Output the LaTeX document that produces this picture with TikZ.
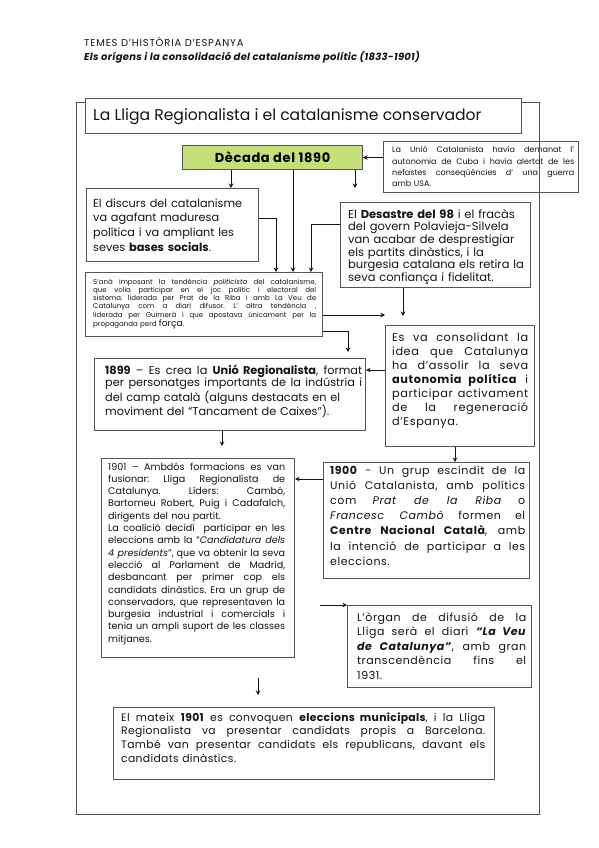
\documentclass[tikz,border=0pt]{standalone}
\usepackage{fontspec}
\setmainfont{Poppins}
\usetikzlibrary{arrows.meta}
\definecolor{decgreen}{RGB}{196,223,124}
\definecolor{bord}{RGB}{85,85,85}
\definecolor{ink}{RGB}{20,20,20}
\newcommand\fsz[2]{\fontsize{#1}{#2}\selectfont}
\newlength\bw
\newcommand\J[1]{{\spaceskip=0pt\xspaceskip=0pt\relax\makebox[\bw][s]{#1}}}
\tikzset{
  box/.style={draw=bord, line width=1.1pt, rectangle, anchor=north west, inner sep=0pt},
  frame/.style={draw=bord, line width=1.4pt, rectangle, anchor=north west, inner sep=0pt},
  txt/.style={anchor=base west, inner sep=0pt, align=left, text=ink},
  tw/.style={text width=#1, execute at begin node={\setlength{\bw}{#1}}},
  arr/.style={draw=ink, line width=0.8pt, -{Stealth[length=4.5pt,width=4.5pt]}},
}
\begin{document}
\frenchspacing
\begin{tikzpicture}[x=1pt,y=-1pt]
\useasboundingbox[fill=white] (0,0) rectangle (599,848);

% header
\node[txt, font={\fsz{10}{11}\addfontfeature{LetterSpace=8}}] (h1) at (84,47) {TEMES D’HISTÒRIA D’ESPANYA};
\node[txt, font={\fsz{10}{11}\bfseries\itshape\addfontfeature{LetterSpace=2.5}}] (h2) at (84,61) {Els orígens i la consolidació del catalanisme polític (1833-1901)};

% outer frame and title
\node[frame, minimum width=463pt, minimum height=712pt] (frame) at (76,102) {};
\node[box, fill=white, minimum width=436pt, minimum height=35pt] (title) at (85,98) {};
\node[txt, font=\fsz{15.6}{18}] (titlet) at (93,121) {La Lliga Regionalista i el catalanisme conservador};

% Decada
\node[box, fill=decgreen, minimum width=180pt, minimum height=24pt, font={\fsz{13}{14}\bfseries\addfontfeature{LetterSpace=5}}] (dec) at (182,145) {Dècada del 1890};

% note
\node[box, minimum width=195pt, minimum height=51pt] (note) at (383,141) {};
\node[txt, tw=182pt, font=\fsz{8}{11}] (notet) at (392,153) {\J{La Unió Catalanista havia demanat l’}\\
\J{autonomia de Cuba i havia alertat de les}\\
\J{nefastes conseqüències d’ una guerra}\\
amb USA.};

% discurs
\node[box, minimum width=172pt, minimum height=73pt] (disc) at (86,188) {};
\node[txt, tw=163pt, font=\fsz{11.3}{14.7}] (disct) at (93,207) {El discurs del catalanisme\\
va agafant maduresa\\
política i va ampliant les\\
seves \textbf{bases socials}.};

% desastre
\node[box, minimum width=190pt, minimum height=85pt] (desa) at (340,202) {};
\node[txt, tw=181pt, font=\fsz{11.5}{12.7}] (desat) at (348,218) {El \textbf{Desastre del 98} i el fracàs\\
del govern Polavieja-Silvela\\
van acabar de desprestigiar\\
els partits dinàstics, i la\\
burgesia catalana els retira la\\
seva confiança i fidelitat.};

% politicista
\node[box, minimum width=237pt, minimum height=64pt] (poli) at (85,272) {};
\node[txt, tw=223pt, font=\fsz{7}{8.3}] (polit) at (93,284) {\J{S’anà imposant la tendència \textit{politicista} del catalanisme,}\\
\J{que volia participar en el joc polític i electoral del}\\
\J{sistema. liderada per Prat de la Riba i amb La Veu de}\\
\J{Catalunya com a diari difusor. L’ altra tendència ,}\\
\J{liderada per Guimerà i que apostava únicament per la}\\
propaganda perd {\fsz{9}{8.3}força}.};

% consolidant
\node[box, minimum width=149pt, minimum height=121pt] (cons) at (385,325) {};
\node[txt, tw=136pt, font={\fsz{11.3}{14}\addfontfeature{LetterSpace=5}}] (const) at (392,341) {\J{Es va consolidant la}\\
\J{idea que Catalunya}\\
\J{ha d’assolir la seva}\\
\J{\textbf{autonomia política} i}\\
\J{participar activament}\\
\J{de la regeneració}\\
d’Espanya.};

% 1899
\node[box, minimum width=271pt, minimum height=72pt] (y1899) at (94,358) {};
\node[txt, tw=257pt, font=\fsz{11.3}{12.6}] (y1899t) at (105,374) {\J{\textbf{1899} – Es crea la \textbf{Unió Regionalista}, format}\\
\J{per personatges importants de la indústria i}\\
del camp català (alguns destacats en el\\
moviment del “Tancament de Caixes”).};

% 1900
\node[box, minimum width=206pt, minimum height=116pt] (y1900) at (323,462) {};
\node[txt, tw=195pt, font={\fsz{11}{15.2}\addfontfeature{LetterSpace=5}}] (y1900t) at (330,474) {\J{\textbf{1900} - Un grup escindit de la}\\
\J{Unió Catalanista, amb polítics}\\
\J{com \textit{Prat de la Riba} o}\\
\J{\textit{Francesc Cambó} formen el}\\
\J{\textbf{Centre Nacional Català}, amb}\\
\J{la intenció de participar a les}\\
eleccions.};

% 1901
\node[box, minimum width=193pt, minimum height=199pt] (y1901) at (101,458) {};
\node[txt, tw=177pt, font=\fsz{9.6}{12.3}] (y1901t) at (108,470) {\J{1901 – Ambdós formacions es van}\\
\J{fusionar: Lliga Regionalista de}\\
\J{Catalunya. Líders: Cambó,}\\
\J{Bartomeu Robert, Puig i Cadafalch,}\\
dirigents del nou partit.\\
\J{La coalició decidí \ participar en les}\\
\J{eleccions amb la “\textit{Candidatura dels}}\\
\J{\textit{4 presidents}”, que va obtenir la seva}\\
\J{elecció al Parlament de Madrid,}\\
\J{desbancant per primer cop els}\\
\J{candidats dinàstics. Era un grup de}\\
\J{conservadors, que representaven la}\\
\J{burgesia industrial i comercials i}\\
\J{tenia un ampli suport de les classes}\\
mitjanes.};

% organ
\node[box, minimum width=184pt, minimum height=82pt] (organ) at (347,605) {};
\node[txt, tw=169pt, font={\fsz{11}{14.5}\addfontfeature{LetterSpace=5}}] (organt) at (357,621) {\J{L’òrgan de difusió de la}\\
\J{Lliga serà el diari \textbf{\textit{“La Veu}}}\\
\J{\textbf{\textit{de Catalunya”}}, amb gran}\\
\J{transcendència fins el}\\
1931.};

% final
\node[box, minimum width=381pt, minimum height=72pt] (fin) at (113,707) {};
\node[txt, tw=364pt, font={\fsz{10.8}{13.8}\addfontfeature{LetterSpace=3}}] (fint) at (121,721) {\J{El mateix \textbf{1901} es convoquen \textbf{eleccions municipals}, i la Lliga}\\
\J{Regionalista va presentar candidats propis a Barcelona.}\\
\J{També van presentar candidats els republicans, davant els}\\
candidats dinàstics.};

% free ends
\coordinate (f1) at (355,188);
\coordinate (f2) at (385,315);
\coordinate (f3) at (348,352);
\coordinate (f4) at (403,316);
\coordinate (f5) at (222,446);
\coordinate (f6) at (320,605);
\coordinate (f7) at (258,678);
\coordinate (f8) at (258,695);

% connectors
\draw[arr] (note.west |- dec.east) -- (dec.east);
\draw[arr] (231,0 |- dec.south) -- (231,0 |- disc.north);
\draw[arr] (293,0 |- dec.south) -- (293,0 |- poli.north);
\draw[arr] (355,0 |- dec.south) -- (f1);
\draw[arr] (disc.east |- 0,218) -| (276,0 |- poli.north);
\draw[arr] (desa.west |- 0,224) -| (311,0 |- poli.north);
\draw[arr] (poli.east |- 0,315) -- (f2);
\draw[arr] (poli.east |- 0,331) -| (f3);
\draw[arr] (403,0 |- desa.south) -- (f4);
\draw[arr] (cons.west |- 0,370) -- (y1899.east |- 0,370);
\draw[arr] (222,0 |- y1899.south) -- (f5);
\draw[arr] (455,0 |- cons.south) -- (455,0 |- y1900.north);
\draw[arr] (y1900.west |- 0,479) -- (y1901.east |- 0,479);
\draw[arr] (f6) -- (organ.north west);
\draw[arr] (f7) -- (f8);
\end{tikzpicture}
\end{document}
